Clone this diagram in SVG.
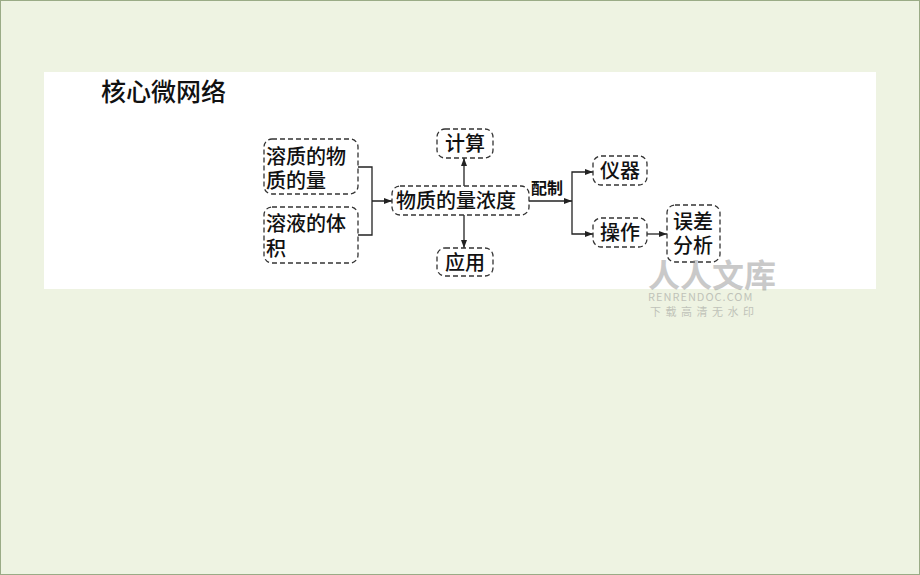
<svg xmlns="http://www.w3.org/2000/svg" width="920" height="575" viewBox="0 0 920 575">
<defs>
<marker id="ah" markerWidth="8" markerHeight="6" refX="8" refY="3" orient="auto" markerUnits="userSpaceOnUse"><path d="M0,0 L8,3 L0,6 Z" fill="#222"/></marker>
<style>
.b{fill:#fff;stroke:#333;stroke-width:1.3;stroke-dasharray:5 3}
.t{font-family:"Noto Sans CJK SC",sans-serif;font-size:20px;font-weight:500;fill:#111}
.c{fill:none;stroke:#222;stroke-width:1.3}
</style>
</defs>
<rect width="920" height="575" fill="#eef3e2"/>
<rect x="0.5" y="0.5" width="919" height="574" fill="none" stroke="#9aab86"/>
<rect x="44" y="72" width="832" height="217" fill="#fff"/>
<text x="101" y="101" style="font-family:'Noto Sans CJK SC',sans-serif;font-size:25px;font-weight:500;fill:#111">核心微网络</text>
<g id="connectors">
<path class="c" d="M358,167 H372 V235 H358 M372,201 H392" marker-end="url(#ah)"/>
<path class="c" d="M464,186 V158" marker-end="url(#ah)"/>
<path class="c" d="M464,215 V248" marker-end="url(#ah)"/>
<path class="c" d="M529,201 H572" marker-end="url(#ah)"/>
<path class="c" d="M572,201 V172 H593" marker-end="url(#ah)"/>
<path class="c" d="M572,201 V234 H593" marker-end="url(#ah)"/>
<path class="c" d="M647,234 H667" marker-end="url(#ah)"/>
<text x="531" y="194" style="font-family:'Noto Sans CJK SC',sans-serif;font-size:16px;font-weight:bold;fill:#111">配制</text>
</g>
<g id="n1"><rect class="b" x="264" y="139" width="94" height="55" rx="8"/><text class="t" x="266" y="164">溶质的物</text><text class="t" x="266" y="188">质的量</text></g>
<g id="n2"><rect class="b" x="264" y="207" width="94" height="56" rx="8"/><text class="t" x="266" y="231">溶液的体</text><text class="t" x="266" y="256">积</text></g>
<g id="n3"><rect class="b" x="392" y="186" width="137" height="29" rx="8"/><text class="t" x="396" y="208">物质的量浓度</text></g>
<g id="n4"><rect class="b" x="437" y="129" width="56" height="29" rx="8"/><text class="t" x="445" y="151">计算</text></g>
<g id="n5"><rect class="b" x="437" y="248" width="56" height="28" rx="8"/><text class="t" x="445" y="270">应用</text></g>
<g id="n6"><rect class="b" x="593" y="156" width="54" height="29" rx="8"/><text class="t" x="600" y="178">仪器</text></g>
<g id="n7"><rect class="b" x="593" y="218" width="54" height="29" rx="8"/><text class="t" x="600" y="240">操作</text></g>
<g id="n8"><rect class="b" x="667" y="205" width="53" height="57" rx="8"/><text class="t" x="673" y="229">误差</text><text class="t" x="673" y="253">分析</text></g>
<g id="watermark" opacity="0.45" fill="#888" font-family="'Noto Sans CJK SC',sans-serif">
<text x="648" y="287" font-size="32" font-weight="bold">人人文库</text>
<text x="648" y="301" font-size="11" letter-spacing="1">RENRENDOC.COM</text>
<text x="650" y="316" font-size="11" letter-spacing="4.5">下载高清无水印</text>
</g>
</svg>
